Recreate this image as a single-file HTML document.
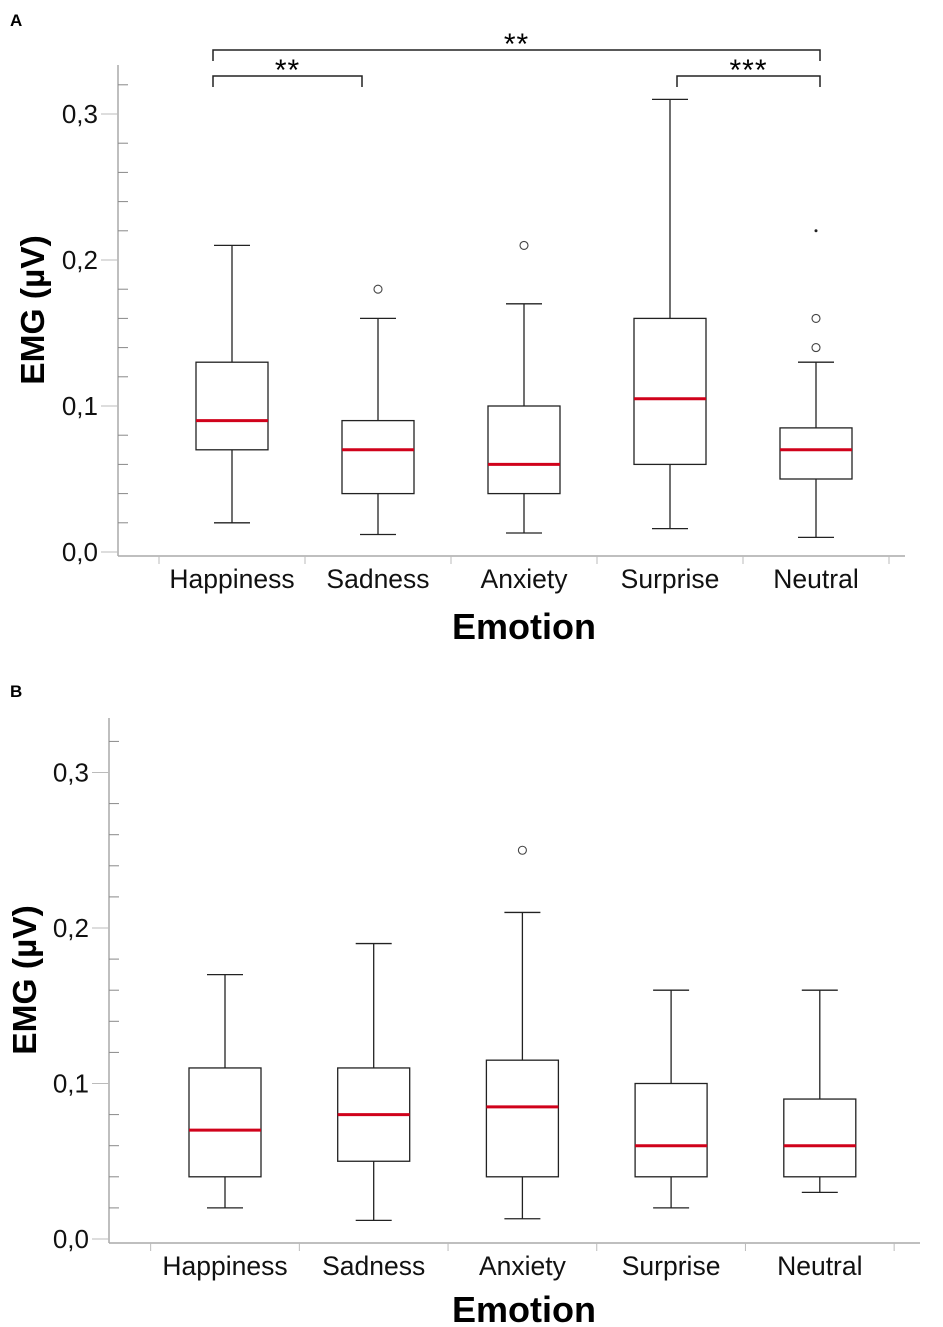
<!DOCTYPE html>
<html><head><meta charset="utf-8"><style>
body{margin:0;background:#fff;}
svg{display:block;font-family:"Liberation Sans",Arial,sans-serif;}
</style></head><body>
<svg id="chart" width="943" height="1327" viewBox="0 0 943 1327">
<text x="10" y="26" font-size="17" font-weight="bold">A</text>
<text x="10" y="697" font-size="17" font-weight="bold">B</text>
</svg>
<script>
const categories=["Happiness","Sadness","Anxiety","Surprise","Neutral"];
const aLow=[0.02,0.012,0.013,0.016,0.01];
const aQ1=[0.07,0.04,0.04,0.06,0.05];
const aMed=[0.09,0.07,0.06,0.105,0.07];
const aQ3=[0.13,0.09,0.10,0.16,0.085];
const aHigh=[0.21,0.16,0.17,0.31,0.13];
const aOutCat=[1,2,4,4];
const aOutVal=[0.18,0.21,0.14,0.16];
const aExtCat=[4];
const aExtVal=[0.22];
const bLow=[0.02,0.012,0.013,0.02,0.03];
const bQ1=[0.04,0.05,0.04,0.04,0.04];
const bMed=[0.07,0.08,0.085,0.06,0.06];
const bQ3=[0.11,0.11,0.115,0.10,0.09];
const bHigh=[0.17,0.19,0.21,0.16,0.16];
const bOutCat=[2];
const bOutVal=[0.25];
const yTicks=[0,0.1,0.2,0.3];
const yTickLabels=["0,0","0,1","0,2","0,3"];
const sigPairs=[[0,1],[0,4],[3,4]];
const sigLabels=["**","**","***"];
const sigLevels=[1,0,1];

const svg=document.getElementById('chart');
const NS='http://www.w3.org/2000/svg';
function mk(tag,attrs,name,parent){const e=document.createElementNS(NS,tag);for(const k in attrs)e.setAttribute(k,attrs[k]);


(parent||svg).appendChild(e);return e;}

function panel(p){
 const g=mk('g',{},p.id);
 const y=v=>p.y0-v*p.scale;
 const x=i=>p.cx0+i*p.step;
 mk('line',{x1:p.ax,y1:p.top,x2:p.ax,y2:p.xaxisY,stroke:'#aaa','stroke-width':1.5},'y-axis',g);
 mk('line',{x1:p.ax,y1:p.xaxisY,x2:p.right,y2:p.xaxisY,stroke:'#aaa','stroke-width':1.5},'x-axis',g);
 for(let k=0;k<=17;k++){const vv=k*0.02;if(y(vv)<p.top)break;
  if(k%5===0){mk('line',{x1:p.ax-17,y1:y(vv),x2:p.ax,y2:y(vv),stroke:'#bbb','stroke-width':1},'y-major-tick',g);}
  else mk('line',{x1:p.ax,y1:y(vv),x2:p.ax+10,y2:y(vv),stroke:'#888','stroke-width':1},'y-minor-tick',g);}
 yTicks.forEach((t,i)=>{const tx=mk('text',{x:p.ax-20,y:y(t)+9,'font-size':26,'text-anchor':'end',fill:'#111'},'y-tick-label',g);tx.textContent=yTickLabels[i];});
 for(let i=0;i<=categories.length;i++){const xx=x(i)-p.step/2;mk('line',{x1:xx,y1:p.xaxisY,x2:xx,y2:p.xaxisY+8,stroke:'#bbb','stroke-width':1},'x-tick',g);}
 categories.forEach((c,i)=>{const t=mk('text',{x:x(i),y:p.xaxisY+32,'font-size':26.5,'text-anchor':'middle',fill:'#111'},'x-tick-label',g);t.textContent=c;});
 const yt=mk('text',{x:0,y:0,'font-size':33.5,'font-weight':'bold','text-anchor':'middle',transform:`translate(${p.ytitleX},${p.ytitleY}) rotate(-90)`},'y-axis-title',g);yt.textContent='EMG (µV)';
 const xt=mk('text',{x:p.xtitleX,y:p.xtitleY,'font-size':36,'font-weight':'bold','text-anchor':'middle'},'x-axis-title',g);xt.textContent='Emotion';
 const hw=36,cw=18;
 categories.forEach((c,i)=>{const cx=x(i);
  mk('line',{x1:cx,y1:y(p.low[i]),x2:cx,y2:y(p.q1[i]),stroke:'#222','stroke-width':1.3},'whisker-low',g);
  mk('line',{x1:cx,y1:y(p.high[i]),x2:cx,y2:y(p.q3[i]),stroke:'#222','stroke-width':1.3},'whisker-high',g);
  mk('line',{x1:cx-cw,y1:y(p.low[i]),x2:cx+cw,y2:y(p.low[i]),stroke:'#222','stroke-width':1.3},'whisker-cap-low',g);
  mk('line',{x1:cx-cw,y1:y(p.high[i]),x2:cx+cw,y2:y(p.high[i]),stroke:'#222','stroke-width':1.3},'whisker-cap-high',g);
  mk('rect',{x:cx-hw,y:y(p.q3[i]),width:hw*2,height:y(p.q1[i])-y(p.q3[i]),fill:'#fff',stroke:'#222','stroke-width':1.3},'box-'+c.toLowerCase(),g);
  mk('line',{x1:cx-hw,y1:y(p.med[i]),x2:cx+hw,y2:y(p.med[i]),stroke:'#d0021b','stroke-width':3},'median-'+c.toLowerCase(),g);
 });
 p.oc.forEach((ci,k)=>mk('circle',{cx:x(ci),cy:y(p.ov[k]),r:4,fill:'#fff',stroke:'#444','stroke-width':1.1},'outlier',g));
 (p.ec||[]).forEach((ci,k)=>mk('circle',{cx:x(ci),cy:y(p.ev[k]),r:1.5,fill:'#222'},'extreme-point',g));
 if(p.sig){sigPairs.forEach((pr,k)=>{const by=sigLevels[k]?76:50;
  const x1=x(pr[0])+(pr[0]===0?-19:7), x2=x(pr[1])+(pr[1]===4?4:-16);
  mk('path',{d:`M${x1},${by+11}V${by}H${x2}V${by+11}`,fill:'none',stroke:'#222','stroke-width':1.5},'significance-bracket',g);
  const t=mk('text',{x:(x1+x2)/2,y:by+4,'font-size':30,'text-anchor':'middle','letter-spacing':'1'},'significance-label',g);t.textContent=sigLabels[k];});}
}
panel({id:'panel-a',y0:552,scale:1460,cx0:232,step:146,ax:118,top:65,xaxisY:556,right:905,ytitleX:44,ytitleY:310,xtitleX:524,xtitleY:639,
 low:aLow,q1:aQ1,med:aMed,q3:aQ3,high:aHigh,oc:aOutCat,ov:aOutVal,ec:aExtCat,ev:aExtVal,sig:true});
panel({id:'panel-b',y0:1239,scale:1555,cx0:225,step:148.7,ax:109,top:718,xaxisY:1243,right:920,ytitleX:36,ytitleY:980,xtitleX:524,xtitleY:1322,
 low:bLow,q1:bQ1,med:bMed,q3:bQ3,high:bHigh,oc:bOutCat,ov:bOutVal,ec:[],ev:[],sig:false});
</script>
</body></html>
